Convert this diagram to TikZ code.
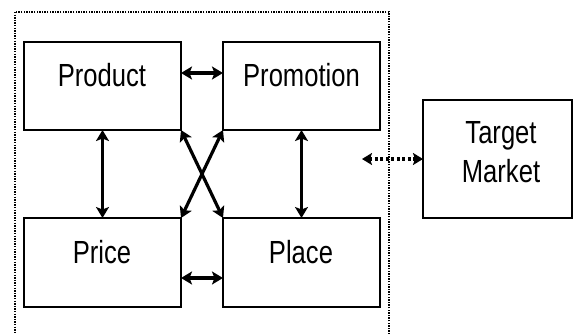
\documentclass[tikz,border=0pt]{standalone}
\usepackage{fontspec}
\setmainfont{Liberation Sans}[FakeStretch=0.8]
\usetikzlibrary{arrows.meta}
\begin{document}
\begin{tikzpicture}[x=1pt,y=-1pt,
  box/.style={draw=black,line width=2pt,rectangle,outer sep=0pt,inner sep=0pt},
  txt/.style={font=\fontsize{32}{39}\selectfont,anchor=base,inner sep=0pt},
  tip/.style={},
  link/.style={line width=3.2pt,{Stealth[length=11pt,width=13pt,inset=2.5pt]}-{Stealth[length=11pt,width=13pt,inset=2.5pt]}},
  dlink/.style={line width=3.4pt,dash pattern=on 3pt off 2.5pt,{Stealth[length=10pt,width=12pt,inset=2pt]}-{Stealth[length=10pt,width=12pt,inset=2pt]}},
  frame/.style={draw=black,line width=1.4pt,dash pattern=on 1.4pt off 1.2pt}]
\useasboundingbox (0,0) rectangle (576,333);
\clip (0,0) rectangle (576,333);
\fill[white] (0,0) rectangle (576,333);
\draw[frame] (15,12) rectangle (389,345);
\node[box,minimum width=157pt,minimum height=88pt] (prod) at (102.5,86) {};
\node[box,minimum width=157pt,minimum height=88pt] (promo) at (301.5,86) {};
\node[box,minimum width=157pt,minimum height=89pt] (price) at (102.5,262.5) {};
\node[box,minimum width=157pt,minimum height=89pt] (place) at (301.5,262.5) {};
\node[box,minimum width=149pt,minimum height=118pt] (tm) at (497.5,159) {};
\node[txt] (prodt) at (102,86) {Product};
\node[txt] (promot) at (301.5,86) {Promotion};
\node[txt] (pricet) at (102,263) {Price};
\node[txt] (placet) at (301,263) {Place};
\node[txt] (tmt1) at (501,143) {Target};
\node[txt] (tmt2) at (501,182) {Market};
\draw[link] ([yshift=13pt]prod.east) -- ([yshift=13pt]promo.west);
\draw[link] ([yshift=-15.5pt]price.east) -- ([yshift=-15.5pt]place.west);
\draw[link] (prod.south) -- (price.north);
\draw[link] (promo.south) -- (place.north);
\draw[link] (prod.south east) -- (place.north west);
\draw[link] (promo.south west) -- (price.north east);
\coordinate (dl) at (362,159);
\draw[dlink] (dl) -- (tm.west);
\end{tikzpicture}
\end{document}
